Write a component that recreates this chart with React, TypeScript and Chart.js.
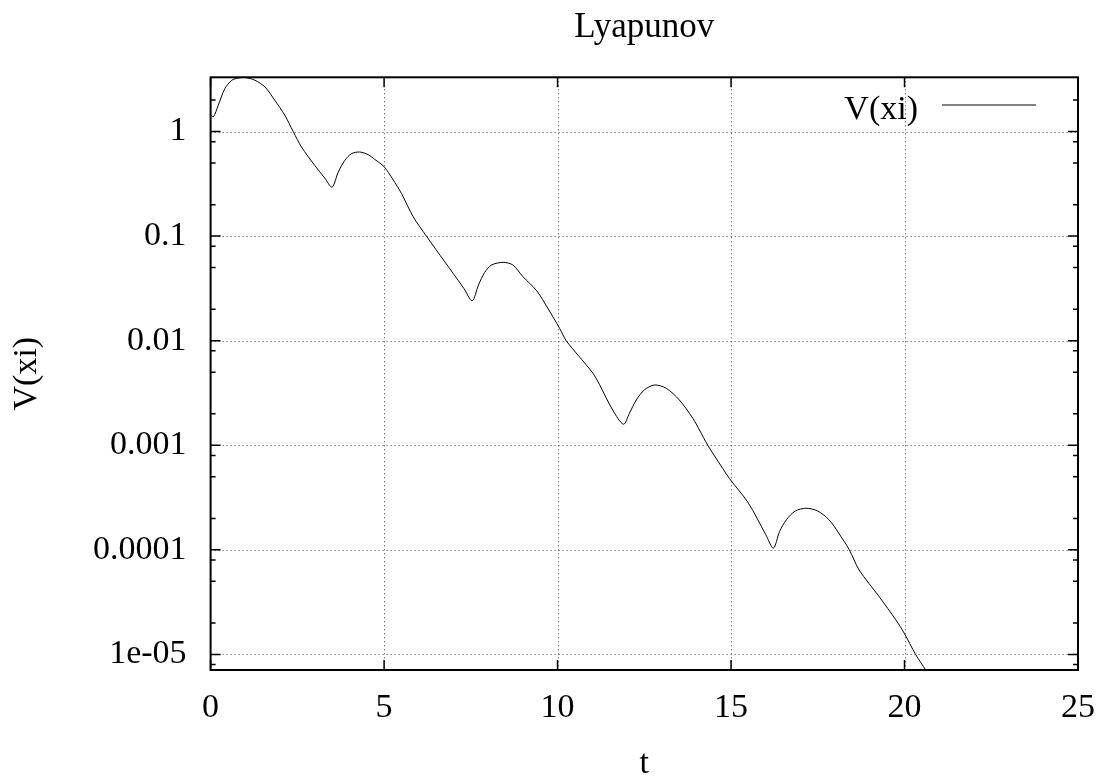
import React, { useEffect, useRef } from "react";
import { Chart, registerables } from "chart.js";

Chart.register(...registerables);

const T: number[] = [
  0.0, 0.08, 0.22, 0.41, 0.61, 0.8, 1.0, 1.28, 1.57, 1.85, 2.14, 2.38, 2.62, 3.0, 3.29, 3.5,
  3.68, 3.87, 4.06, 4.3, 4.54, 4.73, 5.0, 5.25, 5.5, 5.84, 6.22, 6.5, 6.99, 7.3, 7.54,
  7.72, 7.9, 8.1, 8.43, 8.71, 9.0, 9.4, 9.72, 10.06, 10.25, 10.6, 11.02, 11.21, 11.59, 11.9,
  12.07, 12.27, 12.5, 12.79, 13.13, 13.51, 13.9, 14.09, 14.33, 14.76, 14.95, 15.5, 16.0, 16.22,
  16.4, 16.6, 16.85, 17.16, 17.5, 17.83, 18.1, 18.41, 18.69, 19.27, 19.75, 19.99, 20.32, 20.61, 20.9,
];
const V: number[] = [
  1.45, 1.38, 1.78, 2.57, 3.09, 3.25, 3.28, 3.09, 2.66, 1.99, 1.43, 1.0, 0.711, 0.475, 0.359, 0.294,
  0.41, 0.53, 0.614, 0.637, 0.601, 0.542, 0.461, 0.35, 0.256, 0.153, 0.1, 0.074, 0.044, 0.0316, 0.0241,
  0.034, 0.045, 0.053, 0.0561, 0.053, 0.041, 0.03, 0.0204, 0.0131, 0.01, 0.0072, 0.00488, 0.0038, 0.00217, 0.00159,
  0.00202, 0.00271, 0.00338, 0.00377, 0.00351, 0.00271, 0.00181, 0.0014, 0.001, 0.0006, 0.000483, 0.00028, 0.00014, 0.000104,
  0.00015, 0.000195, 0.000235, 0.00025, 0.000235, 0.000193, 0.000145, 0.0001, 6.43e-5, 3.57e-5, 2.14e-5, 1.6e-5, 1e-5, 7.1e-6, 5e-6,
];

const X_TICKS: number[] = [0, 5, 10, 15, 20, 25];
const Y_TICKS: number[] = [1e-5, 1e-4, 1e-3, 1e-2, 1e-1, 1];
const Y_TICK_LABELS: string[] = ["1e-05", "0.0001", "0.001", "0.01", "0.1", "1"];
const Y_MINOR_MULTS: number[] = [2, 5, 8];
const SERIES_LABEL = "V(xi)";
const TITLE = "Lyapunov";
const X_TITLE = "t";
const Y_TITLE = "V(xi)";

const FONT = "'Liberation Serif', 'Times New Roman', Times, serif";

const gnuplotPlugin = {
  id: "gnuplotDecor",
  beforeDatasetsDraw(chart: any) {
    const { ctx, chartArea: a, scales } = chart;
    const xs = scales.x;
    const ys = scales.y;
    ctx.save();
    ctx.strokeStyle = "#444";
    ctx.lineWidth = 1;
    ctx.setLineDash([1, 3]);
    for (const v of X_TICKS) {
      const px = Math.round(xs.getPixelForValue(v)) + 0.5;
      if (px <= a.left + 2 || px >= a.right - 2) continue;
      ctx.beginPath();
      ctx.moveTo(px, a.top);
      ctx.lineTo(px, a.bottom);
      ctx.stroke();
    }
    for (const v of Y_TICKS) {
      const py = Math.round(ys.getPixelForValue(v)) + 0.5;
      if (py <= a.top + 2 || py >= a.bottom - 2) continue;
      ctx.beginPath();
      ctx.moveTo(a.left, py);
      ctx.lineTo(a.right, py);
      ctx.stroke();
    }
    ctx.restore();
  },
  afterDatasetsDraw(chart: any) {
    const { ctx, chartArea: a, scales } = chart;
    const xs = scales.x;
    const ys = scales.y;
    ctx.save();
    ctx.setLineDash([]);
    ctx.strokeStyle = "#000";
    ctx.lineWidth = 1.5;
    const major = 10;
    const minor = 5;
    for (const v of X_TICKS) {
      const px = xs.getPixelForValue(v);
      ctx.beginPath();
      ctx.moveTo(px, a.bottom);
      ctx.lineTo(px, a.bottom - major);
      ctx.moveTo(px, a.top);
      ctx.lineTo(px, a.top + major);
      ctx.stroke();
    }
    const yMin = ys.min;
    const yMax = ys.max;
    for (const d of Y_TICKS.concat([10])) {
      const py = ys.getPixelForValue(d);
      if (d >= yMin && d <= yMax) {
        ctx.beginPath();
        ctx.moveTo(a.left, py);
        ctx.lineTo(a.left + major, py);
        ctx.moveTo(a.right, py);
        ctx.lineTo(a.right - major, py);
        ctx.stroke();
      }
      for (const m of Y_MINOR_MULTS) {
        const mv = (d / 10) * m;
        if (mv < yMin || mv > yMax) continue;
        const mp = ys.getPixelForValue(mv);
        ctx.beginPath();
        ctx.moveTo(a.left, mp);
        ctx.lineTo(a.left + minor, mp);
        ctx.moveTo(a.right, mp);
        ctx.lineTo(a.right - minor, mp);
        ctx.stroke();
      }
    }
    // frame
    ctx.lineWidth = 2;
    ctx.strokeRect(a.left, a.top, a.right - a.left, a.bottom - a.top);
    // title centred over the plot area
    ctx.fillStyle = "#000";
    ctx.font = `35px ${FONT}`;
    ctx.textAlign = "center";
    ctx.textBaseline = "alphabetic";
    ctx.fillText(TITLE, (a.left + a.right) / 2, 37);
    // legend
    ctx.font = `34px ${FONT}`;
    ctx.textAlign = "right";
    ctx.fillText(chart.data.datasets[0].label, 918, 119);
    ctx.lineWidth = 1;
    ctx.beginPath();
    ctx.moveTo(942, 105);
    ctx.lineTo(1036, 105);
    ctx.stroke();
    ctx.restore();
  },
};

export default function App() {
  const ref = useRef<HTMLCanvasElement>(null);
  useEffect(() => {
    const canvas = ref.current;
    if (!canvas) return;
    const chart = new Chart(canvas, {
      type: "line",
      data: {
        datasets: [
          {
            label: SERIES_LABEL,
            data: T.map((t, i) => ({ x: t, y: V[i] })),
            borderColor: "#000",
            borderWidth: 1,
            pointRadius: 0,
            tension: 0.3,
            fill: false,
          },
        ],
      },
      options: {
        animation: false,
        responsive: false,
        maintainAspectRatio: false,
        devicePixelRatio: 1,
        layout: { padding: { left: 0, right: 27, top: 77.3, bottom: 0 } },
        plugins: {
          legend: { display: false },
          tooltip: { enabled: false },
          title: { display: false },
        },
        scales: {
          x: {
            type: "linear",
            min: 0,
            max: 25,
            grid: { display: false, drawTicks: false },
            border: { display: false },
            afterBuildTicks: (s: any) => {
              s.ticks = X_TICKS.map((v) => ({ value: v }));
            },
            afterFit: (s: any) => {
              s.height = 108;
              s.paddingLeft = 0;
              s.paddingRight = 0;
            },
            ticks: {
              color: "#000",
              font: { family: FONT, size: 34 },
              padding: 17.5,
              maxRotation: 0,
              autoSkip: false,
              callback: (v: any) => String(v),
            },
            title: {
              display: true,
              text: X_TITLE,
              color: "#000",
              font: { family: FONT, size: 34, lineHeight: 0.82 },
              padding: { top: 0, bottom: 0 },
            },
          },
          y: {
            type: "logarithmic",
            min: 7.1e-6,
            max: 3.3,
            grid: { display: false, drawTicks: false },
            border: { display: false },
            afterBuildTicks: (s: any) => {
              s.ticks = Y_TICKS.map((v) => ({ value: v }));
            },
            afterFit: (s: any) => {
              s.width = 210.6;
              s.paddingTop = 0;
              s.paddingBottom = 0;
            },
            ticks: {
              color: "#000",
              font: { family: FONT, size: 34 },
              padding: 24,
              autoSkip: false,
              callback: (v: any) => {
                const i = Y_TICKS.findIndex((t) => Math.abs(t - v) / t < 1e-6);
                return i >= 0 ? Y_TICK_LABELS[i] : "";
              },
            },
            title: {
              display: true,
              text: Y_TITLE,
              color: "#000",
              font: { family: FONT, size: 34, lineHeight: 1.2 },
              padding: { top: 7, bottom: 0 },
            },
          },
        },
      },
      plugins: [gnuplotPlugin],
    } as any);
    return () => chart.destroy();
  }, []);
  return (
    <div style={{ position: "fixed", left: 0, top: 0, width: 1105, height: 778, background: "#fff" }}>
      <canvas ref={ref} width={1105} height={778} style={{ display: "block", width: 1105, height: 778 }} />
    </div>
  );
}
